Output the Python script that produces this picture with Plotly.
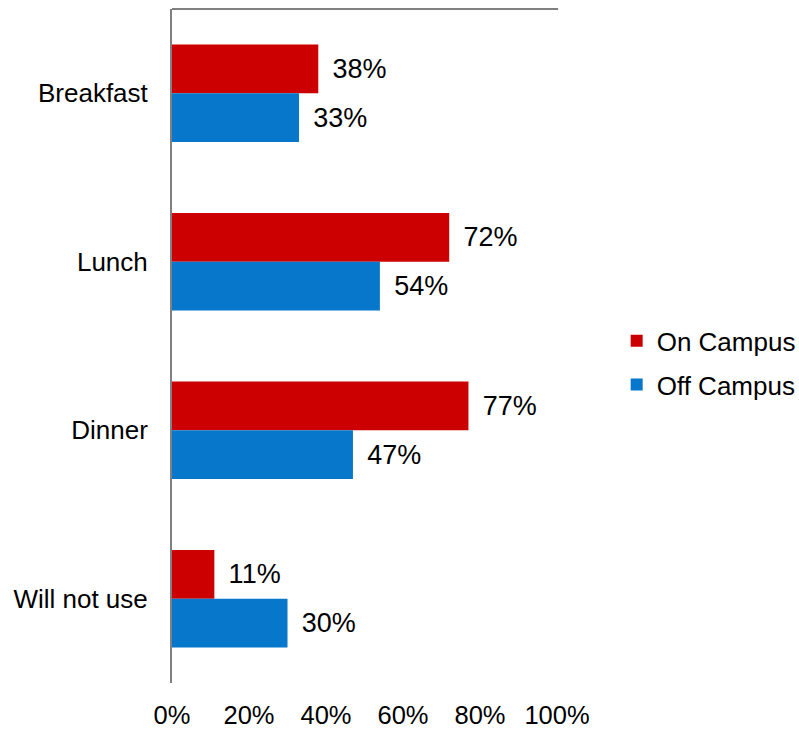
import plotly.graph_objects as go

categories = ["Breakfast", "Lunch", "Dinner", "Will not use"]
on_campus = [0.38, 0.72, 0.77, 0.11]
off_campus = [0.33, 0.54, 0.47, 0.30]
series_names = ["On Campus", "Off Campus"]
tick_vals = [0, 0.2, 0.4, 0.6, 0.8, 1.0]
tick_text = ["0%", "20%", "40%", "60%", "80%", "100%"]

FONT = "Liberation Sans, Arial, sans-serif"
PAD = "\u2004\u200a"

fig = go.Figure()
fig.add_trace(go.Bar(
    y=categories, x=on_campus, orientation="h", name=series_names[0],
    legendgroup="a",
    marker=dict(color="#CC0000", line=dict(width=0)),
    texttemplate=PAD + "%{x:.0%}", textposition="outside",
    textfont=dict(family=FONT, size=27, color="#000000"), cliponaxis=False,
))
fig.add_trace(go.Bar(
    y=categories, x=off_campus, orientation="h", name=series_names[1],
    legendgroup="b",
    marker=dict(color="#0777CC", line=dict(width=0)),
    texttemplate=PAD + "%{x:.0%}", textposition="outside",
    textfont=dict(family=FONT, size=27, color="#000000"), cliponaxis=False,
))

fig.update_layout(
    width=799, height=731,
    margin=dict(l=172, r=242, t=9, b=48, autoexpand=False),
    paper_bgcolor="white", plot_bgcolor="white",
    barmode="group", bargap=0.42, bargroupgap=0,
    font=dict(family=FONT, size=26, color="#000000"),
    showlegend=True,
    legend=dict(x=1.155, y=0.475, xanchor="left", yanchor="middle",
                font=dict(family=FONT, size=26, color="#000000"),
                traceorder="grouped", tracegroupgap=7,
                bgcolor="rgba(0,0,0,0)", itemwidth=30),
    uniformtext=dict(mode=False),
)
fig.update_xaxes(range=[0, 1], tickvals=tick_vals, ticktext=tick_text,
                 showgrid=False, zeroline=False, showline=False,
                 ticks="", ticklabelstandoff=14, automargin=False,
                 tickfont=dict(family=FONT, size=25.5, color="#000000"))
fig.update_yaxes(autorange="reversed", showgrid=False, zeroline=False,
                 showline=True, linecolor="#808080", linewidth=2,
                 ticks="", ticklabelstandoff=17, automargin=False,
                 tickfont=dict(family=FONT, size=26, color="#000000"))
fig.add_shape(type="line", xref="paper", yref="paper", x0=0, x1=1.003, y0=1, y1=1,
              line=dict(color="#808080", width=2))

fig.write_html("out.html", config={"displayModeBar": False},
               post_script="document.body.style.margin='0px';document.body.style.padding='0px';")
